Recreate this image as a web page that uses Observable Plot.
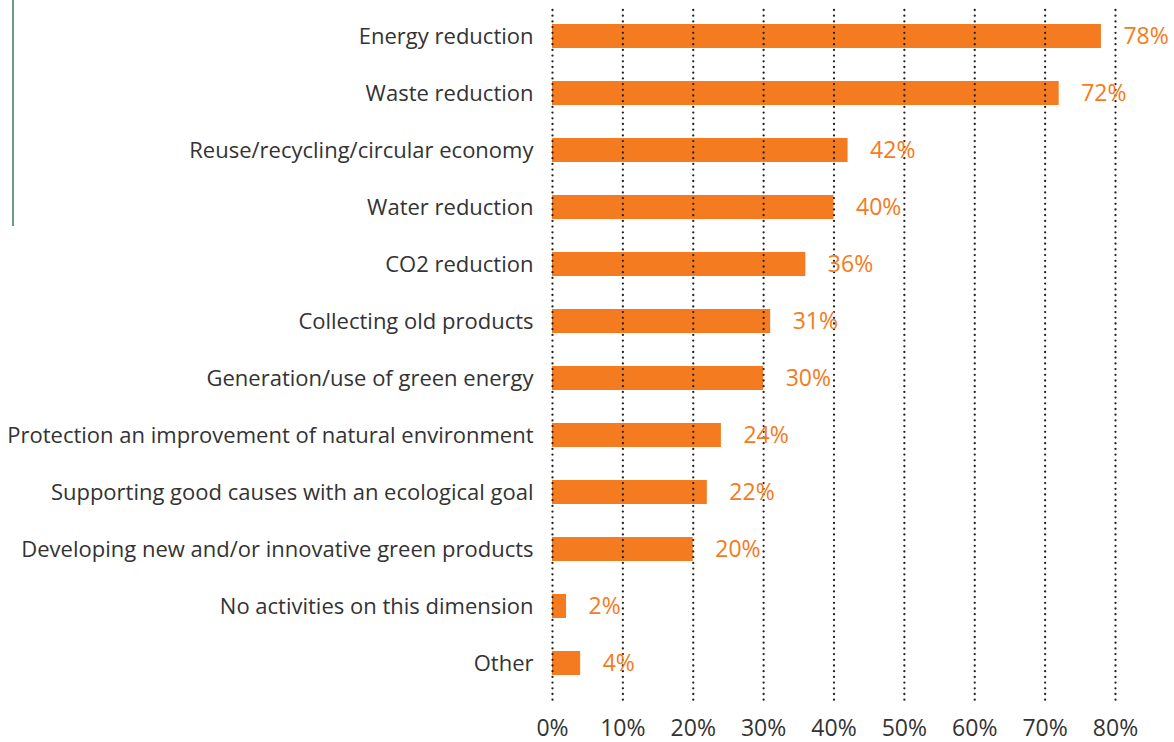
<!DOCTYPE html>
<html><head><meta charset="utf-8">
<script src="https://cdn.jsdelivr.net/npm/d3@7"></script>
<script src="https://cdn.jsdelivr.net/npm/@observablehq/plot@0.6"></script>
<style>
body{margin:0;background:#fff;}
#wrap{position:relative;width:1174px;height:742px;}
#greenline{position:absolute;left:12px;top:0;width:2px;height:226px;background:#6f9c7d;}
</style>
</head><body>
<div id="wrap"><div id="greenline"></div><div id="chart"></div></div>
<script>
const categories = [
  "Energy reduction",
  "Waste reduction",
  "Reuse/recycling/circular economy",
  "Water reduction",
  "CO2 reduction",
  "Collecting old products",
  "Generation/use of green energy",
  "Protection an improvement of natural environment",
  "Supporting good causes with an ecological goal",
  "Developing new and/or innovative green products",
  "No activities on this dimension",
  "Other"
];
const values = [78, 72, 42, 40, 36, 31, 30, 24, 22, 20, 2, 4];
const xTicks = [0, 10, 20, 30, 40, 50, 60, 70, 80];

const data = categories.map((c, i) => ({category: c, value: values[i]}));

const chart = Plot.plot({
  width: 1174,
  height: 742,
  marginLeft: 552,
  marginRight: 59,
  marginTop: 16,
  marginBottom: 59,
  style: {fontFamily: "'Open Sans', sans-serif", fontSize: "22px", color: "#333", background: "#fff", overflow: "visible"},
  x: {domain: [0, 80], label: null},
  y: {domain: categories, paddingInner: 0.58, paddingOuter: 0.12, label: null},
  marks: [
    Plot.barX(data, {y: "category", x: "value", fill: "#f47b20"}),
    Plot.ruleX(xTicks, {stroke: "#222", strokeWidth: 2.3, strokeDasharray: "0 5.7", strokeLinecap: "round", insetTop: -6, insetBottom: -17}),
    Plot.text(data, {y: "category", x: "value", text: d => d.value + "%", dx: 22, textAnchor: "start", fill: "#f47b20", fontSize: 23}),
    Plot.axisY({tickSize: 0, tickPadding: 19, fontSize: 22, fill: "#333"}),
    Plot.axisX({ticks: xTicks, tickFormat: d => d + "%", tickSize: 0, tickPadding: 36, fontSize: 23, fill: "#333"})
  ]
});
document.getElementById("chart").appendChild(chart);
</script>
</body></html>
